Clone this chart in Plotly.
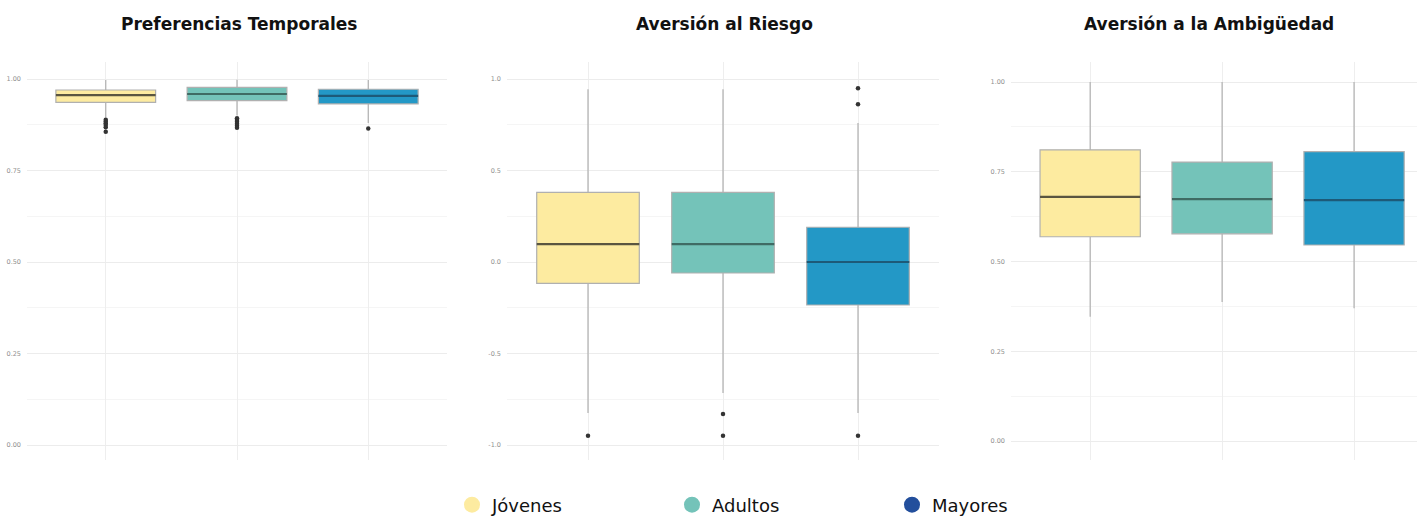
import plotly.graph_objects as go

groups = ["Jóvenes", "Adultos", "Mayores"]
panel_titles = ["Preferencias Temporales", "Aversión al Riesgo", "Aversión a la Ambigüedad"]

# Preferencias Temporales
pt_q1 = [0.936, 0.941, 0.932]
pt_med = [0.956, 0.959, 0.954]
pt_q3 = [0.970, 0.977, 0.972]
pt_lo = [0.895, 0.900, 0.880]
pt_hi = [0.997, 0.998, 0.997]
pt_out = [[0.889, 0.884, 0.879, 0.874, 0.868, 0.856],
          [0.893, 0.888, 0.883, 0.878, 0.872, 0.867],
          [0.865]]

# Aversión al Riesgo
ar_q1 = [-0.117, -0.060, -0.235]
ar_med = [0.098, 0.098, 0.000]
ar_q3 = [0.380, 0.380, 0.190]
ar_lo = [-0.825, -0.716, -0.825]
ar_hi = [0.944, 0.944, 0.760]
ar_out = [[-0.950], [-0.830, -0.950], [0.949, 0.862, -0.950]]

# Aversión a la Ambigüedad
aa_q1 = [0.569, 0.577, 0.546]
aa_med = [0.680, 0.674, 0.671]
aa_q3 = [0.811, 0.777, 0.806]
aa_lo = [0.346, 0.387, 0.370]
aa_hi = [1.000, 1.000, 1.000]
aa_out = [[], [], []]

box_fill = ["#FDEBA0", "#74C3B9", "#2398C6"]
legend_fill = ["#FDEBA0", "#74C3B9", "#234F9C"]
median_col = ["#5a5540", "#3f6b64", "#1d5a78"]

panels = [
    (pt_q1, pt_med, pt_q3, pt_lo, pt_hi, pt_out),
    (ar_q1, ar_med, ar_q3, ar_lo, ar_hi, ar_out),
    (aa_q1, aa_med, aa_q3, aa_lo, aa_hi, aa_out),
]

W, H = 1417, 521
x_dom_px = [(27, 447), (507, 939), (1011, 1417)]
x_ranges = [[-0.6, 2.6], [-0.6, 2.6], [-0.6, 2.477]]
y_dom_px = (62, 460)
y_ranges = [[(445 - 460) / 366, (445 - 62) / 366],
            [(262 - 460) / 183, (262 - 62) / 183],
            [(441 - 460) / 359, (441 - 62) / 359]]
y_ticks = [(0.125, ["0.00", "0.25", "0.50", "0.75", "1.00"], [0, 0.25, 0.5, 0.75, 1.0]),
           (0.25, ["-1.0", "-0.5", "0.0", "0.5", "1.0"], [-1.0, -0.5, 0.0, 0.5, 1.0]),
           (0.125, ["0.00", "0.25", "0.50", "0.75", "1.00"], [0, 0.25, 0.5, 0.75, 1.0])]
title_cx = [239, 724, 1209]

BOXW = 0.76
fig = go.Figure()

for p, (q1, med, q3, lo, hi, outs) in enumerate(panels):
    xa = "x" if p == 0 else f"x{p+1}"
    ya = "y" if p == 0 else f"y{p+1}"
    for i, g in enumerate(groups):
        fig.add_trace(go.Box(
            x=[i], q1=[q1[i]], median=[med[i]], q3=[q3[i]],
            lowerfence=[lo[i]], upperfence=[hi[i]],
            fillcolor=box_fill[i], line=dict(color="#b0b0b0", width=1.2),
            whiskerwidth=0, width=BOXW, boxpoints=False,
            showlegend=False, hoverinfo="skip", xaxis=xa, yaxis=ya,
        ))
        fig.add_trace(go.Scatter(
            x=[i - BOXW / 2, i + BOXW / 2], y=[med[i], med[i]], mode="lines",
            line=dict(color=median_col[i], width=2.2),
            showlegend=False, hoverinfo="skip", xaxis=xa, yaxis=ya,
        ))
        if outs[i]:
            fig.add_trace(go.Scatter(
                x=[i] * len(outs[i]), y=outs[i], mode="markers",
                marker=dict(color="#333333", size=4.5),
                showlegend=False, hoverinfo="skip", xaxis=xa, yaxis=ya,
            ))

# legend entries
for i, g in enumerate(groups):
    fig.add_trace(go.Scatter(
        x=[None], y=[None], mode="markers", name=g,
        marker=dict(color=legend_fill[i], size=20),
        showlegend=True,
    ))

layout = dict(
    width=W, height=H, autosize=False,
    margin=dict(l=0, r=0, t=0, b=0, autoexpand=False),
    paper_bgcolor="white", plot_bgcolor="white",
    boxmode="overlay",
    font=dict(family="DejaVu Sans, Arial, sans-serif"),
    showlegend=True,
    legend=dict(
        orientation="h", x=452 / W, xanchor="left", y=1 - 505 / H, yanchor="middle",
        font=dict(size=18, color="#111111", family="DejaVu Sans, Arial, sans-serif"),
        entrywidth=175, entrywidthmode="pixels", itemsizing="trace",
        bgcolor="rgba(0,0,0,0)",
    ),
)

annotations = []
for p in range(3):
    xk = "xaxis" if p == 0 else f"xaxis{p+1}"
    yk = "yaxis" if p == 0 else f"yaxis{p+1}"
    xa = "x" if p == 0 else f"x{p+1}"
    x0, x1 = x_dom_px[p]
    layout[xk] = dict(
        domain=[x0 / W, x1 / W], range=x_ranges[p], anchor=xa.replace("x", "y"),
        tickvals=[0, 1, 2], ticktext=["", "", ""],
        showgrid=True, gridcolor="#eeeeee", gridwidth=1,
        zeroline=False, showline=False, ticks="",
    )
    mdt, tt, tv = y_ticks[p]
    layout[yk] = dict(
        domain=[1 - y_dom_px[1] / H, 1 - y_dom_px[0] / H], range=y_ranges[p],
        anchor=xa,
        tickvals=tv, ticktext=tt,
        tickfont=dict(size=6.5, color="#8f8f8f"),
        showgrid=True, gridcolor="#ececec", gridwidth=1,
        minor=dict(dtick=mdt, tick0=0, showgrid=True, gridcolor="#f5f5f5", gridwidth=1),
        zeroline=False, showline=False, ticks="", ticklabelstandoff=5,
    )
    annotations.append(dict(
        text=f"<b>{panel_titles[p]}</b>", x=title_cx[p] / W, y=1 - 24 / H,
        xref="paper", yref="paper", xanchor="center", yanchor="middle",
        showarrow=False, font=dict(size=17, color="#111111", family="DejaVu Sans, Arial, sans-serif"),
    ))
layout["annotations"] = annotations

fig.update_layout(**layout)
fig.write_html("out.html")
